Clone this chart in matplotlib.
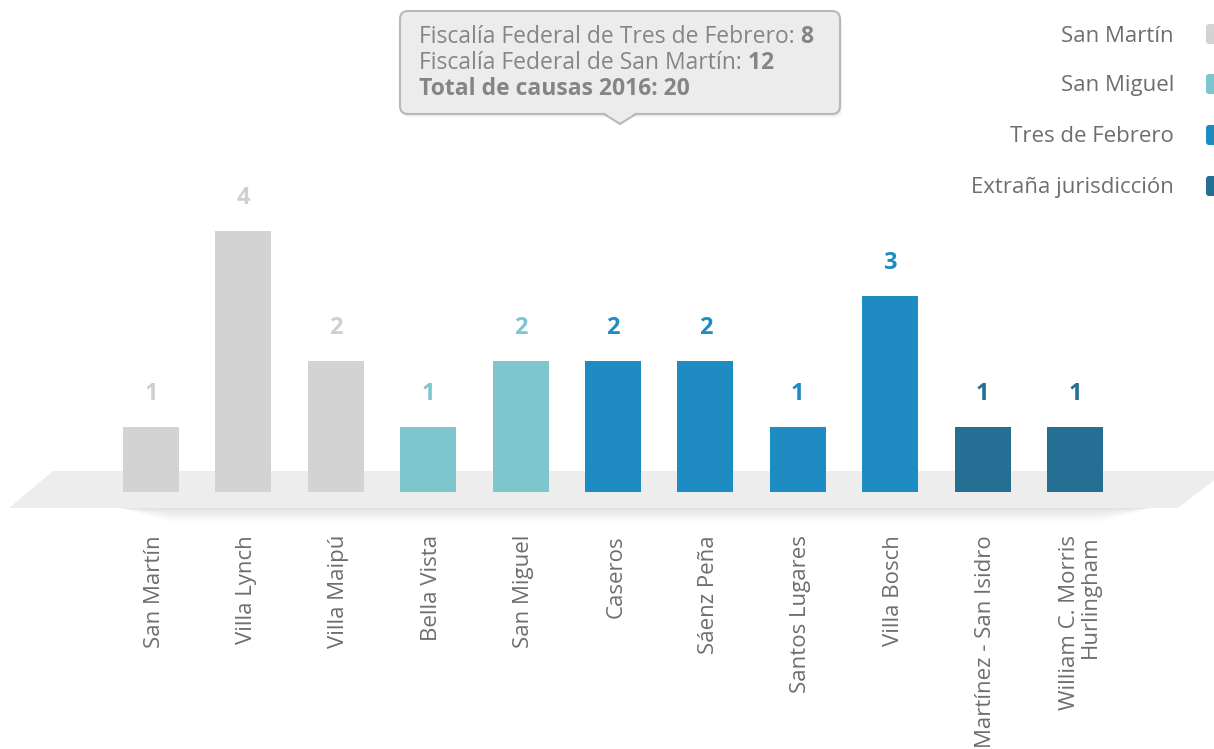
import matplotlib
matplotlib.use("Agg")
import matplotlib.pyplot as plt
from matplotlib.patches import Polygon, FancyBboxPatch

# ---- data ----
categories = ["San Martín", "Villa Lynch", "Villa Maipú", "Bella Vista", "San Miguel",
              "Caseros", "Sáenz Peña", "Santos Lugares", "Villa Bosch",
              "Martínez - San Isidro", "William C. Morris\nHurlingham"]
values = [1, 4, 2, 1, 2, 2, 2, 1, 3, 1, 1]
groups = ["San Martín", "San Martín", "San Martín", "San Miguel", "San Miguel",
          "Tres de Febrero", "Tres de Febrero", "Tres de Febrero", "Tres de Febrero",
          "Extraña jurisdicción", "Extraña jurisdicción"]
legend_labels = ["San Martín", "San Miguel", "Tres de Febrero", "Extraña jurisdicción"]
group_colors = {"San Martín": "#d3d3d3", "San Miguel": "#7ec6ce",
                "Tres de Febrero": "#1e8bc3", "Extraña jurisdicción": "#246f93"}
label_colors = {"San Martín": "#cfcfcf", "San Miguel": "#7ec6ce",
                "Tres de Febrero": "#1e8bc3", "Extraña jurisdicción": "#246f93"}
tooltip_lines = [("Fiscalía Federal de Tres de Febrero:", " 8"),
                 ("Fiscalía Federal de San Martín:", " 12")]
tooltip_total = "Total de causas 2016: 20"

FONT = "Open Sans"
TXT = "#6e6e6e"
FS = 16

W, H = 1214, 749
fig = plt.figure(figsize=(W / 100, H / 100), dpi=100)

# decoration axes in pixel coordinates (top-left origin)
deco = fig.add_axes([0, 0, 1, 1])
deco.set_xlim(0, W)
deco.set_ylim(H, 0)
deco.axis("off")

# floor shadow
for k, a in enumerate([0.025, 0.025, 0.02, 0.02, 0.015, 0.01]):
    deco.add_patch(Polygon([(120, 508), (1150, 508), (1100, 510 + 2.5 * k), (170, 510 + 2.5 * k)],
                           closed=True, facecolor="#000000", alpha=a, lw=0, zorder=0))
# floor
deco.add_patch(Polygon([(53, 471), (1226, 471), (1178, 508), (9, 508)], closed=True,
                       facecolor="#ededed", edgecolor="none", zorder=1))

# data axes
ax = fig.add_axes([0, 0, 1, 1], facecolor="none")
ax.axis("off")
step, x0 = 92.4, 151
unit, base = 65.3, 492
ax.set_xlim(-x0 / step, (W - x0) / step)
ax.set_ylim(-(H - base) / unit, base / unit)

xs = list(range(len(categories)))
bar_colors = [group_colors[g] for g in groups]
ax.bar(xs, values, width=0.606, color=bar_colors, zorder=3)

for x, v, g in zip(xs, values, groups):
    ax.annotate(str(v), xy=(x, v), xytext=(0, 33), textcoords="offset pixels",
                ha="center", va="center", fontsize=17, fontweight="bold",
                color=label_colors[g], family=FONT, zorder=4)

label_top = -(535 - base) / unit
for x, c in zip(xs, categories):
    ax.text(x + (5 / step if "\n" in c else 3 / step), label_top, c, rotation=90, ha="center",
            va="top", multialignment="right",
            fontsize=FS, color=TXT, family=FONT, linespacing=0.95)

# legend
leg_y = [36, 86, 137, 188]
for yy, lab in zip(leg_y, legend_labels):
    deco.text(1174, yy, lab, ha="right", va="center", fontsize=FS, color=TXT, family=FONT)
    deco.add_patch(FancyBboxPatch((1206, yy - 12), 20, 20,
                                  boxstyle="round,pad=0,rounding_size=3",
                                  facecolor=group_colors[lab], edgecolor="none"))

# tooltip
deco.add_patch(FancyBboxPatch((402, 14), 440, 103, boxstyle="round,pad=0,rounding_size=8",
                              facecolor="#000000", alpha=0.06, edgecolor="none", zorder=5))
deco.add_patch(FancyBboxPatch((400, 11), 440, 103, boxstyle="round,pad=0,rounding_size=8",
                              facecolor="#ececec", edgecolor="#b8b8b8", lw=1.5, zorder=6))
deco.add_patch(Polygon([(604, 113), (620, 124), (636, 113)], closed=True,
                       facecolor="#ececec", edgecolor="none", zorder=7))
deco.plot([604, 620, 636], [114, 124, 114], color="#b8b8b8", lw=1.5, zorder=7)

TT = "#858585"
TFS = 16.5
for i, (norm, bold) in enumerate(tooltip_lines):
    t = deco.text(419, 37 + 26 * i, norm, ha="left", va="center", fontsize=TFS,
                  color=TT, family=FONT, zorder=8)
    deco.annotate(bold, xy=(1, 0), xycoords=t, ha="left", va="bottom", fontsize=TFS,
                  color=TT, family=FONT, fontweight="bold", zorder=8)
deco.text(419, 89, tooltip_total, ha="left", va="center", fontsize=TFS, color=TT,
          family=FONT, fontweight="bold", zorder=8)

fig.savefig("out.png", dpi=100)
